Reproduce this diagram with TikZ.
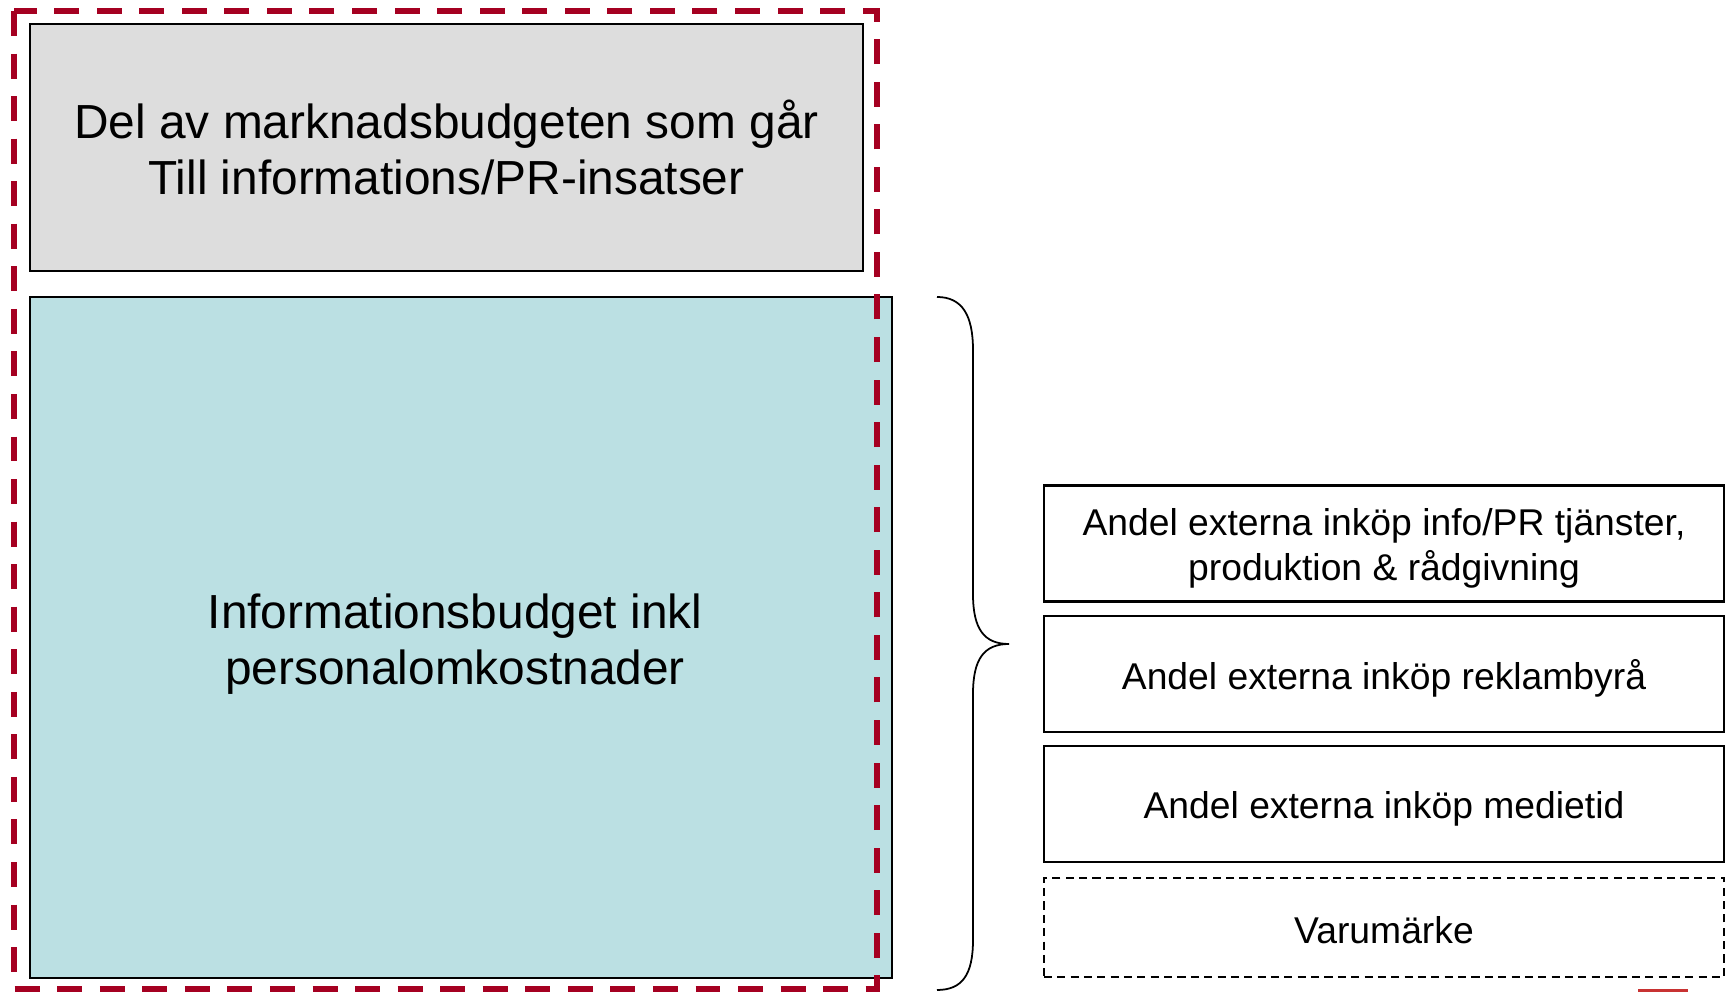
\documentclass[tikz,border=0pt]{standalone}
\usepackage{fontspec}
\setmainfont{Liberation Sans}
\definecolor{budgetgray}{HTML}{DDDDDD}
\definecolor{infoteal}{HTML}{BBE0E3}
\definecolor{framered}{HTML}{A50021}
\definecolor{markred}{HTML}{C83232}
\begin{document}
\begin{tikzpicture}[x=0.01cm,y=-0.01cm,
        box/.style={draw,line width=0.6pt,inner sep=0pt},
        bigtext/.style={font=\fontsize{13.6}{15.9}\selectfont,align=center},
        parttext/.style={font=\fontsize{10.6}{12.8}\selectfont,align=center,yshift=-0.045cm},
        part/.style={box,minimum width=6.8cm,minimum height=1.16cm}]
    \useasboundingbox (0,0) rectangle (1729,992);
    % left column
    \node[box,fill=budgetgray,minimum width=8.33cm,minimum height=2.47cm,
        label={[bigtext]center:{Del av marknadsbudgeten som går\\Till informations/PR-insatser}}] (marknad) at (446.5,147.5) {};
    \node[box,fill=infoteal,minimum width=8.62cm,minimum height=6.81cm,
        label={[bigtext,xshift=-0.06cm,yshift=-0.066cm]center:{Informationsbudget inkl\\personalomkostnader}}] (info) at (461,637.5) {};
    \draw[framered,line width=1.7pt,dash pattern=on 7.1pt off 5pt] (14,11) rectangle (877,989);
    % right column
    \node[part,label={[parttext]center:{Andel externa inköp info/PR tjänster,\\produktion \& rådgivning}}] (tjanster) at (1384,543.5) {};
    \node[part,label={[parttext]center:Andel externa inköp reklambyrå}] (reklam) at (1384,674) {};
    \node[part,label={[parttext]center:Andel externa inköp medietid}] (medie) at (1384,804) {};
    \node[part,line width=0.5pt,dash pattern=on 2.3pt off 1.5pt,minimum height=0.99cm,
        label={[parttext,yshift=0.02cm]center:Varumärke}] (varumarke) at (1384,927.5) {};
    % brace
    \coordinate (bracetop) at (937,297);
    \coordinate (bracetip) at (1009,644);
    \coordinate (bracebot) at (937,990);
    \draw[line width=0.5pt] (bracetop) .. controls +(25,0) and +(0,-35) .. (973,350) -- (973,594)
        .. controls +(0,35) and +(-25,0) .. (bracetip)
        .. controls +(-25,0) and +(0,-35) .. (973,694) -- (973,940)
        .. controls +(0,35) and +(25,0) .. (bracebot);
    \fill[markred] (1638,989) rectangle (1688,992);
\end{tikzpicture}
\end{document}
